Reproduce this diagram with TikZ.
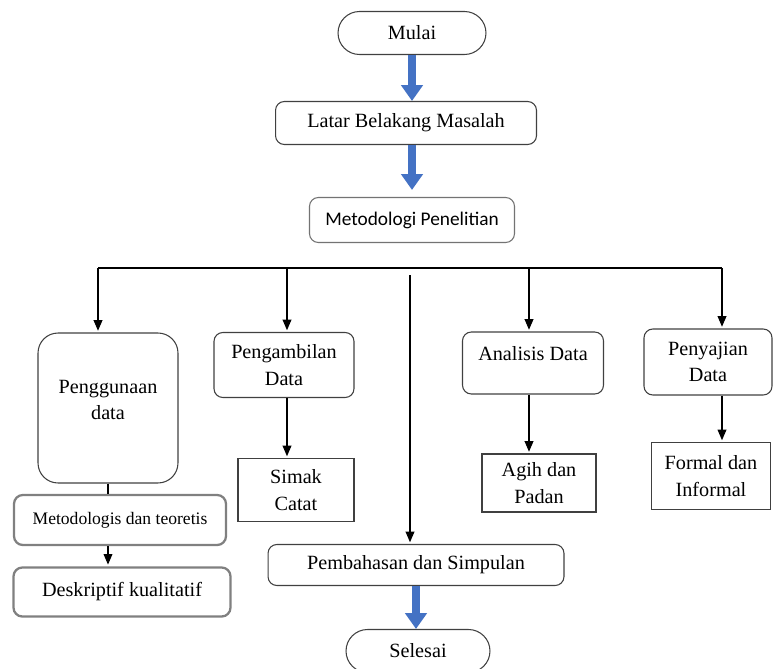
\documentclass[tikz,border=0pt]{standalone}
\usepackage{fontspec}
\setmainfont{Liberation Serif}
\newfontfamily\calibri{Carlito}
\usetikzlibrary{arrows.meta,positioning}
\definecolor{biru}{RGB}{68,114,196}
\tikzset{
  >={Triangle[length=6pt,width=5pt]},
  kotak/.style={
    rectangle,
    rounded corners=5pt,
    draw=black!75, semithick,
    align=center,
    inner sep=2pt,
    font=\fontsize{11.5}{15}\selectfont
  },
  terminal/.style={kotak, rounded corners=0.43cm, minimum height=0.86cm},
  kotaktebal/.style={kotak, draw=black!50, line width=1.3pt},
  kotaktajam/.style={kotak, sharp corners},
  garis/.style={draw, semithick},
  panah/.style={garis, ->, shorten >=1pt},
  panahbiru/.style={draw=biru, line width=4.5pt,
    -{Triangle[length=9pt,width=12pt]}},
}
\begin{document}
\begin{tikzpicture}[x=0.02cm, y=-0.02cm]
  \useasboundingbox (0,0) rectangle (774,669);
  % alur utama
  \node[terminal, minimum width=2.96cm] (mulai) at (412,33) {Mulai};
  \node[kotak, minimum width=5.22cm, minimum height=0.86cm] (latar) at (406,123) {Latar Belakang Masalah};
  \node[kotak, draw=black!55, minimum width=4.1cm, minimum height=0.9cm,
    font={\calibri\fontsize{11}{14}\selectfont}] (metode) at (412,220) {Metodologi Penelitian};
  % cabang
  \coordinate (cab1) at (98,268);
  \coordinate (cab2) at (287,268);
  \coordinate (cab4) at (529,268);
  \coordinate (cab5) at (722,268);
  \coordinate (tengah) at (410,275);
  \node[kotak, rounded corners=0.4cm, minimum width=2.8cm, minimum height=3cm] (guna) at (108,408) {Penggunaan\\data\\[-6pt] \mbox{}};
  \node[kotak, minimum width=2.8cm, minimum height=1.3cm] (ambil) at (284,365) {Pengambilan\\Data};
  \node[kotak, minimum width=2.82cm, minimum height=1.24cm] (analisis) at (533,363) {Analisis Data\\[-4pt] \mbox{}};
  \node[kotak, minimum width=2.56cm, minimum height=1.32cm] (saji) at (708,362) {Penyajian\\Data};
  \node[kotaktajam, minimum width=2.32cm, minimum height=1.26cm] (simak) at (296,490) {Simak\\Catat};
  \node[kotaktajam, minimum width=2.28cm, minimum height=1.16cm] (agih) at (539,483) {Agih dan\\Padan};
  \node[kotaktajam, minimum width=2.38cm, minimum height=1.34cm] (formal) at (711,476) {Formal dan\\Informal};
  \node[kotaktebal, minimum width=4.24cm, minimum height=1cm,
    font=\fontsize{10}{12}\selectfont] (metodologis) at (120,520) {Metodologis dan teoretis};
  \node[kotaktebal, minimum width=4.34cm, minimum height=0.98cm] (deskriptif) at (122,592) {Deskriptif kualitatif};
  % penutup
  \node[kotak, minimum width=5.92cm, minimum height=0.82cm] (bahas) at (416,565) {Pembahasan dan Simpulan};
  \node[terminal, minimum width=2.88cm] (selesai) at (418,651) {Selesai};

  \draw[panahbiru] (mulai.south) -- (mulai.south |- latar.north);
  \draw[panahbiru, shorten >=4pt] (latar.south -| metode) -- (metode.north);
  \draw[panahbiru] (bahas.south) -- (bahas.south |- selesai.north);
  \draw[garis] (cab1) -- (cab5);
  \draw[panah] (cab1) -- (cab1 |- guna.north);
  \draw[panah] (cab2) -- (cab2 |- ambil.north);
  \draw[panah] (cab4) -- (cab4 |- analisis.north);
  \draw[panah] (cab5) -- (cab5 |- saji.north);
  \draw[panah] (tengah) -- (tengah |- bahas.north);
  \draw[garis] (guna.south) -- (guna.south |- metodologis.north);
  \draw[panah] (guna.south |- metodologis.south) -- (guna.south |- deskriptif.north);
  \draw[panah] (cab2 |- ambil.south) -- (cab2 |- simak.north);
  \draw[panah] (cab4 |- analisis.south) -- (cab4 |- agih.north);
  \draw[panah] (cab5 |- saji.south) -- (cab5 |- formal.north);
\end{tikzpicture}
\end{document}
